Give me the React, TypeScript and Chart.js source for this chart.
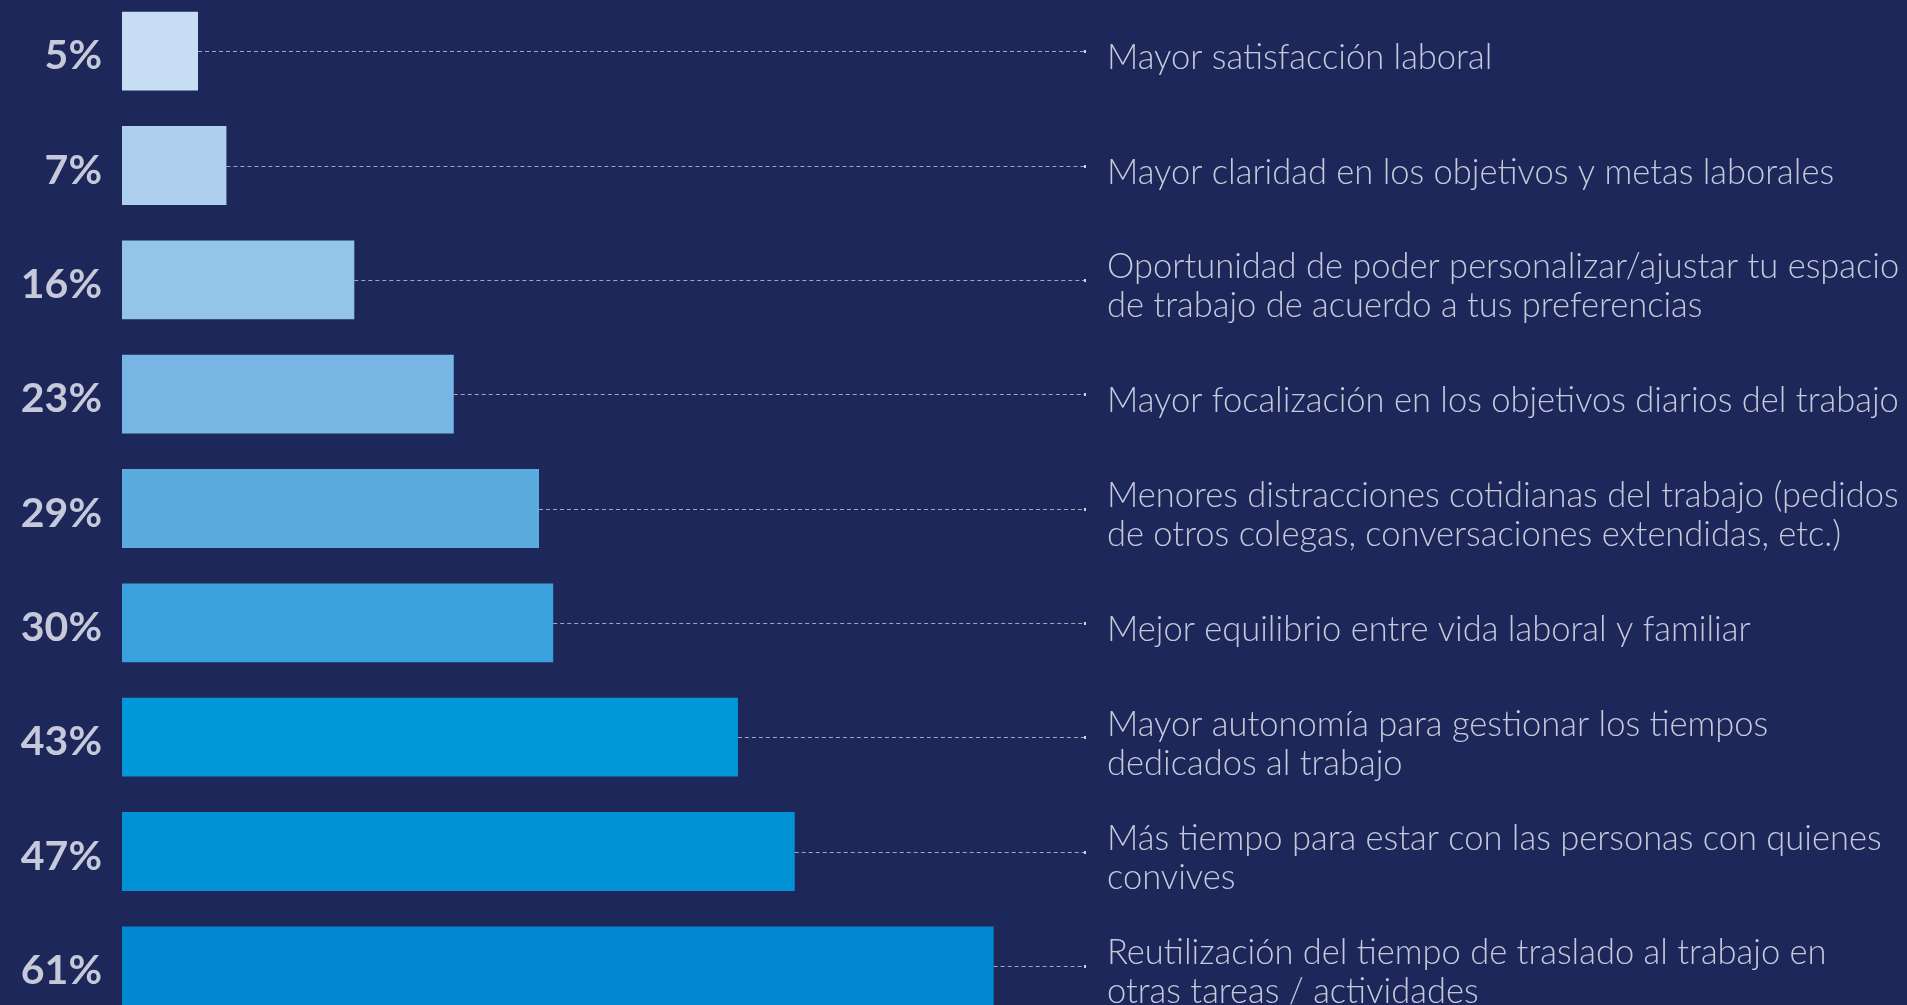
import React, { useEffect, useRef } from 'react';
import { Chart, registerables } from 'chart.js';

Chart.register(...registerables);

const categories: string[][] = [
  ['Mayor satisfacción laboral'],
  ['Mayor claridad en los objetivos y metas laborales'],
  ['Oportunidad de poder personalizar/ajustar tu espacio', 'de trabajo de acuerdo a tus preferencias'],
  ['Mayor focalización en los objetivos diarios del trabajo'],
  ['Menores distracciones cotidianas del trabajo (pedidos', 'de otros colegas, conversaciones extendidas, etc.)'],
  ['Mejor equilibrio entre vida laboral y familiar'],
  ['Mayor autonomía para gestionar los tiempos', 'dedicados al trabajo'],
  ['Más tiempo para estar con las personas con quienes', 'convives'],
  ['Reutilización del tiempo de traslado al trabajo en', 'otras tareas / actividades'],
];

const values: number[] = [5, 7, 16, 23, 29, 30, 43, 47, 61];

const percentLabels: string[] = ['5%', '7%', '16%', '23%', '29%', '30%', '43%', '47%', '61%'];

const barColors: string[] = [
  '#c6ddf4',
  '#acd0ee',
  '#93c4e9',
  '#77b6e4',
  '#5babdf',
  '#3aa1dc',
  '#0099d8',
  '#0092d4',
  '#0088d1',
];

const BG = '#1e2759';
const TEXT = '#c6c9da';

const leaderLines = {
  id: 'leaderLines',
  afterDatasetsDraw(chart: any) {
    const { ctx, chartArea } = chart;
    const meta = chart.getDatasetMeta(0);
    ctx.save();
    meta.data.forEach((bar: any) => {
      const y = Math.round(bar.y) + 0.5;
      ctx.beginPath();
      ctx.setLineDash([4, 3]);
      ctx.lineWidth = 1;
      ctx.strokeStyle = 'rgba(205, 210, 228, 0.75)';
      ctx.moveTo(bar.x, y);
      ctx.lineTo(chartArea.right - 2, y);
      ctx.stroke();
      ctx.setLineDash([]);
      ctx.fillStyle = 'rgba(225, 228, 240, 0.9)';
      ctx.fillRect(chartArea.right - 3, y - 1.5, 2, 3);
    });
    ctx.restore();
  },
};

const noVerticalPadding = (width: number) => (scale: any) => {
  scale.width = width;
  scale.paddingTop = 0;
  scale.paddingBottom = 0;
};

export default function App() {
  const canvasRef = useRef<HTMLCanvasElement | null>(null);

  useEffect(() => {
    if (!canvasRef.current) return;
    const chart = new Chart(canvasRef.current, {
      type: 'bar',
      data: {
        labels: categories,
        datasets: [
          {
            data: values,
            backgroundColor: barColors,
            borderWidth: 0,
            base: -0.35,
            barPercentage: 0.69,
            categoryPercentage: 1,
          },
        ],
      },
      options: {
        indexAxis: 'y',
        animation: false,
        responsive: false,
        devicePixelRatio: 1,
        layout: { padding: 0 },
        plugins: {
          legend: { display: false },
          tooltip: { enabled: false },
        },
        scales: {
          x: {
            type: 'linear',
            min: -0.35,
            max: 67.57,
            display: false,
            grid: { display: false },
          },
          y: {
            type: 'category',
            position: 'left',
            offset: true,
            border: { display: false },
            grid: { display: false, drawTicks: false },
            afterFit: noVerticalPadding(122),
            ticks: {
              autoSkip: false,
              padding: 20,
              labelOffset: 5,
              color: TEXT,
              font: { family: 'Lato', size: 41, weight: 'bold' },
              callback: (_v: any, i: number) => percentLabels[i],
            },
          },
          y2: {
            type: 'category',
            position: 'right',
            offset: true,
            border: { display: false },
            grid: { display: false, drawTicks: false },
            afterFit: noVerticalPadding(820),
            ticks: {
              autoSkip: false,
              padding: 20,
              labelOffset: 7,
              color: TEXT,
              font: { family: 'Lato', size: 34.5, weight: '300', lineHeight: '39px' },
              callback: (_v: any, i: number) => categories[i],
            },
          },
        },
      },
      plugins: [leaderLines],
    });
    return () => chart.destroy();
  }, []);

  return (
    <div
      style={{
        position: 'fixed',
        left: 0,
        top: 0,
        width: 1907,
        height: 1005,
        overflow: 'hidden',
        background: BG,
      }}
    >
      <canvas
        ref={canvasRef}
        width={1907}
        height={1029}
        style={{ position: 'absolute', left: 0, top: -6, display: 'block' }}
      />
    </div>
  );
}
